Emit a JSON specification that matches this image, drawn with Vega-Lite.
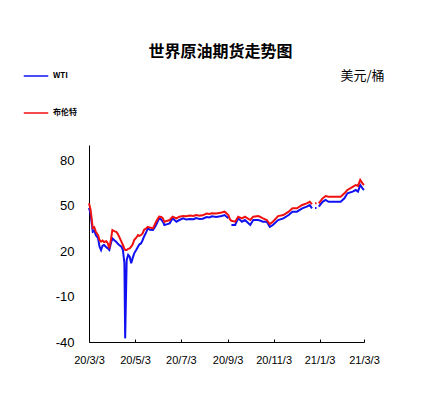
{
  "$schema": "https://vega.github.io/schema/vega-lite/v6.json",
  "width": 275,
  "height": 197,
  "autosize": {"type": "none"},
  "padding": {"left": 89, "top": 145, "right": 78, "bottom": 57},
  "background": "white",
  "title": {
    "text": "世界原油期货走势图",
    "font": "Noto Sans CJK SC",
    "fontSize": 16,
    "fontWeight": "bold",
    "color": "#000000",
    "anchor": "middle",
    "offset": 3,
    "dx": -6
  },
  "config": {
    "view": {"stroke": null},
    "font": "Liberation Sans"
  },
  "data": {
    "values": [
      {"d": "2020-03-03", "s": "WTI", "v": 48.5}, {"d": "2020-03-03", "s": "布伦特", "v": 51.5},
      {"d": "2020-03-05", "s": "WTI", "v": 45.0}, {"d": "2020-03-05", "s": "布伦特", "v": 47.5},
      {"d": "2020-03-08", "s": "WTI", "v": 32.8}, {"d": "2020-03-08", "s": "布伦特", "v": 35.2},
      {"d": "2020-03-10", "s": "WTI", "v": 33.5}, {"d": "2020-03-10", "s": "布伦特", "v": 35.8},
      {"d": "2020-03-12", "s": "WTI", "v": 30.6}, {"d": "2020-03-12", "s": "布伦特", "v": 32.8},
      {"d": "2020-03-15", "s": "WTI", "v": 28.5}, {"d": "2020-03-15", "s": "布伦特", "v": 30.5},
      {"d": "2020-03-17", "s": "WTI", "v": 22.9}, {"d": "2020-03-17", "s": "布伦特", "v": 27.3},
      {"d": "2020-03-19", "s": "WTI", "v": 20.7}, {"d": "2020-03-19", "s": "布伦特", "v": 26.2},
      {"d": "2020-03-21", "s": "WTI", "v": 23.5}, {"d": "2020-03-21", "s": "布伦特", "v": 27.0},
      {"d": "2020-03-23", "s": "WTI", "v": 24.0}, {"d": "2020-03-23", "s": "布伦特", "v": 26.0},
      {"d": "2020-03-26", "s": "WTI", "v": 22.5}, {"d": "2020-03-26", "s": "布伦特", "v": 26.5},
      {"d": "2020-03-28", "s": "WTI", "v": 21.8}, {"d": "2020-03-28", "s": "布伦特", "v": 25.0},
      {"d": "2020-03-30", "s": "WTI", "v": 20.7}, {"d": "2020-03-30", "s": "布伦特", "v": 21.8},
      {"d": "2020-04-01", "s": "WTI", "v": 25.0}, {"d": "2020-04-01", "s": "布伦特", "v": 27.3},
      {"d": "2020-04-03", "s": "WTI", "v": 28.4}, {"d": "2020-04-03", "s": "布伦特", "v": 33.9},
      {"d": "2020-04-06", "s": "WTI", "v": 27.0}, {"d": "2020-04-06", "s": "布伦特", "v": 33.0},
      {"d": "2020-04-08", "s": "WTI", "v": 26.2}, {"d": "2020-04-08", "s": "布伦特", "v": 32.8},
      {"d": "2020-04-10", "s": "WTI", "v": 25.0}, {"d": "2020-04-10", "s": "布伦特", "v": 31.5},
      {"d": "2020-04-12", "s": "WTI", "v": 24.0}, {"d": "2020-04-12", "s": "布伦特", "v": 29.5},
      {"d": "2020-04-15", "s": "WTI", "v": 22.9}, {"d": "2020-04-15", "s": "布伦特", "v": 26.2},
      {"d": "2020-04-17", "s": "WTI", "v": 20.7}, {"d": "2020-04-17", "s": "布伦特", "v": 24.0},
      {"d": "2020-04-19", "s": "WTI", "v": 12.0}, {"d": "2020-04-19", "s": "布伦特", "v": 21.5},
      {"d": "2020-04-20", "s": "WTI", "v": -37.6}, {"d": "2020-04-20", "s": "布伦特", "v": 20.7},
      {"d": "2020-04-22", "s": "WTI", "v": 14.1}, {"d": "2020-04-22", "s": "布伦特", "v": 20.7},
      {"d": "2020-04-24", "s": "WTI", "v": 17.5}, {"d": "2020-04-24", "s": "布伦特", "v": 21.5},
      {"d": "2020-04-26", "s": "WTI", "v": 16.3}, {"d": "2020-04-26", "s": "布伦特", "v": 21.8},
      {"d": "2020-04-28", "s": "WTI", "v": 11.9}, {"d": "2020-04-28", "s": "布伦特", "v": 22.9},
      {"d": "2020-04-30", "s": "WTI", "v": 15.5}, {"d": "2020-04-30", "s": "布伦特", "v": 24.5},
      {"d": "2020-05-02", "s": "WTI", "v": 18.5}, {"d": "2020-05-02", "s": "布伦特", "v": 27.3},
      {"d": "2020-05-05", "s": "WTI", "v": 21.0}, {"d": "2020-05-05", "s": "布伦特", "v": 29.0},
      {"d": "2020-05-07", "s": "WTI", "v": 22.9}, {"d": "2020-05-07", "s": "布伦特", "v": 30.6},
      {"d": "2020-05-09", "s": "WTI", "v": 24.5}, {"d": "2020-05-09", "s": "布伦特", "v": 30.0},
      {"d": "2020-05-11", "s": "WTI", "v": 25.0}, {"d": "2020-05-11", "s": "布伦特", "v": 30.6},
      {"d": "2020-05-13", "s": "WTI", "v": 27.0}, {"d": "2020-05-13", "s": "布伦特", "v": 31.5},
      {"d": "2020-05-15", "s": "WTI", "v": 29.5}, {"d": "2020-05-15", "s": "布伦特", "v": 33.9},
      {"d": "2020-05-18", "s": "WTI", "v": 32.5}, {"d": "2020-05-18", "s": "布伦特", "v": 35.0},
      {"d": "2020-05-20", "s": "WTI", "v": 35.0}, {"d": "2020-05-20", "s": "布伦特", "v": 36.0},
      {"d": "2020-05-23", "s": "WTI", "v": 34.0}, {"d": "2020-05-23", "s": "布伦特", "v": 35.5},
      {"d": "2020-05-27", "s": "WTI", "v": 33.9}, {"d": "2020-05-27", "s": "布伦特", "v": 35.0},
      {"d": "2020-05-31", "s": "WTI", "v": 37.2}, {"d": "2020-05-31", "s": "布伦特", "v": 39.4},
      {"d": "2020-06-04", "s": "WTI", "v": 41.6}, {"d": "2020-06-04", "s": "布伦特", "v": 42.7},
      {"d": "2020-06-07", "s": "WTI", "v": 40.8}, {"d": "2020-06-07", "s": "布伦特", "v": 42.5},
      {"d": "2020-06-09", "s": "WTI", "v": 39.4}, {"d": "2020-06-09", "s": "布伦特", "v": 41.6},
      {"d": "2020-06-11", "s": "WTI", "v": 37.2}, {"d": "2020-06-11", "s": "布伦特", "v": 39.4},
      {"d": "2020-06-15", "s": "WTI", "v": 37.8}, {"d": "2020-06-15", "s": "布伦特", "v": 40.0},
      {"d": "2020-06-18", "s": "WTI", "v": 38.3}, {"d": "2020-06-18", "s": "布伦特", "v": 40.5},
      {"d": "2020-06-22", "s": "WTI", "v": 41.6}, {"d": "2020-06-22", "s": "布伦特", "v": 42.7},
      {"d": "2020-06-27", "s": "WTI", "v": 39.4}, {"d": "2020-06-27", "s": "布伦特", "v": 41.6},
      {"d": "2020-07-01", "s": "WTI", "v": 40.5}, {"d": "2020-07-01", "s": "布伦特", "v": 42.7},
      {"d": "2020-07-06", "s": "WTI", "v": 41.6}, {"d": "2020-07-06", "s": "布伦特", "v": 43.1},
      {"d": "2020-07-10", "s": "WTI", "v": 40.8}, {"d": "2020-07-10", "s": "布伦特", "v": 43.0},
      {"d": "2020-07-15", "s": "WTI", "v": 41.2}, {"d": "2020-07-15", "s": "布伦特", "v": 43.5},
      {"d": "2020-07-20", "s": "WTI", "v": 41.0}, {"d": "2020-07-20", "s": "布伦特", "v": 43.2},
      {"d": "2020-07-23", "s": "WTI", "v": 41.8}, {"d": "2020-07-23", "s": "布伦特", "v": 43.8},
      {"d": "2020-07-28", "s": "WTI", "v": 41.2}, {"d": "2020-07-28", "s": "布伦特", "v": 43.4},
      {"d": "2020-08-01", "s": "WTI", "v": 41.4}, {"d": "2020-08-01", "s": "布伦特", "v": 43.6},
      {"d": "2020-08-06", "s": "WTI", "v": 42.5}, {"d": "2020-08-06", "s": "布伦特", "v": 44.8},
      {"d": "2020-08-10", "s": "WTI", "v": 42.2}, {"d": "2020-08-10", "s": "布伦特", "v": 44.5},
      {"d": "2020-08-13", "s": "WTI", "v": 42.9}, {"d": "2020-08-13", "s": "布伦特", "v": 45.0},
      {"d": "2020-08-19", "s": "WTI", "v": 42.5}, {"d": "2020-08-19", "s": "布伦特", "v": 44.8},
      {"d": "2020-08-26", "s": "WTI", "v": 43.2}, {"d": "2020-08-26", "s": "布伦特", "v": 45.5},
      {"d": "2020-08-30", "s": "WTI", "v": 43.8}, {"d": "2020-08-30", "s": "布伦特", "v": 46.0},
      {"d": "2020-09-04", "s": "WTI", "v": 41.6}, {"d": "2020-09-04", "s": "布伦特", "v": 43.8},
      {"d": "2020-09-06", "s": "WTI", "v": null}, {"d": "2020-09-06", "s": "布伦特", "v": 41.0},
      {"d": "2020-09-08", "s": "WTI", "v": 37.2}, {"d": "2020-09-08", "s": "布伦特", "v": 40.0},
      {"d": "2020-09-13", "s": "WTI", "v": 37.2}, {"d": "2020-09-13", "s": "布伦特", "v": 39.4},
      {"d": "2020-09-17", "s": "WTI", "v": 41.6}, {"d": "2020-09-17", "s": "布伦特", "v": 42.7},
      {"d": "2020-09-22", "s": "WTI", "v": 39.4}, {"d": "2020-09-22", "s": "布伦特", "v": 41.6},
      {"d": "2020-09-26", "s": "WTI", "v": 40.5}, {"d": "2020-09-26", "s": "布伦特", "v": 42.7},
      {"d": "2020-10-03", "s": "WTI", "v": 37.2}, {"d": "2020-10-03", "s": "布伦特", "v": 40.5},
      {"d": "2020-10-07", "s": "WTI", "v": 40.5}, {"d": "2020-10-07", "s": "布伦特", "v": 42.7},
      {"d": "2020-10-14", "s": "WTI", "v": 40.5}, {"d": "2020-10-14", "s": "布伦特", "v": 43.1},
      {"d": "2020-10-20", "s": "WTI", "v": 39.4}, {"d": "2020-10-20", "s": "布伦特", "v": 41.6},
      {"d": "2020-10-25", "s": "WTI", "v": 39.4}, {"d": "2020-10-25", "s": "布伦特", "v": 40.5},
      {"d": "2020-10-29", "s": "WTI", "v": 36.0}, {"d": "2020-10-29", "s": "布伦特", "v": 37.8},
      {"d": "2020-11-02", "s": "WTI", "v": 37.2}, {"d": "2020-11-02", "s": "布伦特", "v": 39.4},
      {"d": "2020-11-09", "s": "WTI", "v": 40.5}, {"d": "2020-11-09", "s": "布伦特", "v": 43.1},
      {"d": "2020-11-16", "s": "WTI", "v": 41.6}, {"d": "2020-11-16", "s": "布伦特", "v": 43.8},
      {"d": "2020-11-23", "s": "WTI", "v": 43.8}, {"d": "2020-11-23", "s": "布伦特", "v": 46.0},
      {"d": "2020-11-28", "s": "WTI", "v": 46.0}, {"d": "2020-11-28", "s": "布伦特", "v": 48.2},
      {"d": "2020-12-04", "s": "WTI", "v": 46.0}, {"d": "2020-12-04", "s": "布伦特", "v": 48.2},
      {"d": "2020-12-11", "s": "WTI", "v": 48.2}, {"d": "2020-12-11", "s": "布伦特", "v": 50.4},
      {"d": "2020-12-17", "s": "WTI", "v": 49.3}, {"d": "2020-12-17", "s": "布伦特", "v": 51.5},
      {"d": "2020-12-21", "s": "WTI", "v": 50.4}, {"d": "2020-12-21", "s": "布伦特", "v": 52.5},
      {"d": "2020-12-24", "s": "WTI", "v": 48.2}, {"d": "2020-12-24", "s": "布伦特", "v": 51.0},
      {"d": "2020-12-26", "s": "WTI", "v": null}, {"d": "2020-12-26", "s": "布伦特", "v": null},
      {"d": "2020-12-28", "s": "WTI", "v": 48.5}, {"d": "2020-12-28", "s": "布伦特", "v": 51.5},
      {"d": "2020-12-30", "s": "WTI", "v": 48.5}, {"d": "2020-12-30", "s": "布伦特", "v": 51.5},
      {"d": "2020-12-31", "s": "WTI", "v": null}, {"d": "2020-12-31", "s": "布伦特", "v": null},
      {"d": "2021-01-02", "s": "WTI", "v": 49.3}, {"d": "2021-01-02", "s": "布伦特", "v": 51.5},
      {"d": "2021-01-07", "s": "WTI", "v": 52.5}, {"d": "2021-01-07", "s": "布伦特", "v": 54.8},
      {"d": "2021-01-11", "s": "WTI", "v": 53.7}, {"d": "2021-01-11", "s": "布伦特", "v": 56.3},
      {"d": "2021-01-15", "s": "WTI", "v": 52.5}, {"d": "2021-01-15", "s": "布伦特", "v": 55.8},
      {"d": "2021-01-22", "s": "WTI", "v": 52.5}, {"d": "2021-01-22", "s": "布伦特", "v": 55.8},
      {"d": "2021-01-31", "s": "WTI", "v": 52.5}, {"d": "2021-01-31", "s": "布伦特", "v": 55.8},
      {"d": "2021-02-05", "s": "WTI", "v": 54.8}, {"d": "2021-02-05", "s": "布伦特", "v": 58.1},
      {"d": "2021-02-09", "s": "WTI", "v": 58.1}, {"d": "2021-02-09", "s": "布伦特", "v": 60.3},
      {"d": "2021-02-16", "s": "WTI", "v": 59.2}, {"d": "2021-02-16", "s": "布伦特", "v": 62.4},
      {"d": "2021-02-20", "s": "WTI", "v": 60.3}, {"d": "2021-02-20", "s": "布伦特", "v": 63.6},
      {"d": "2021-02-23", "s": "WTI", "v": 59.2}, {"d": "2021-02-23", "s": "布伦特", "v": 63.0},
      {"d": "2021-02-26", "s": "WTI", "v": 63.6}, {"d": "2021-02-26", "s": "布伦特", "v": 66.9},
      {"d": "2021-03-01", "s": "WTI", "v": 61.4}, {"d": "2021-03-01", "s": "布伦特", "v": 64.7},
      {"d": "2021-03-03", "s": "WTI", "v": 60.3}, {"d": "2021-03-03", "s": "布伦特", "v": 63.6}
    ]
  },
  "mark": {"type": "line", "strokeWidth": 2, "invalid": "break-paths-show-domains"},
  "encoding": {
    "x": {
      "field": "d",
      "type": "temporal",
      "scale": {"type": "utc", "domain": [{"year": 2020, "month": 3, "date": 3, "utc": true}, {"year": 2021, "month": 3, "date": 3, "utc": true}]},
      "axis": {
        "title": null,
        "grid": false,
        "values": [
          {"year": 2020, "month": 3, "date": 3, "utc": true},
          {"year": 2020, "month": 5, "date": 3, "utc": true},
          {"year": 2020, "month": 7, "date": 3, "utc": true},
          {"year": 2020, "month": 9, "date": 3, "utc": true},
          {"year": 2020, "month": 11, "date": 3, "utc": true},
          {"year": 2021, "month": 1, "date": 3, "utc": true},
          {"year": 2021, "month": 3, "date": 3, "utc": true}
        ],
        "labelExpr": "utcFormat(datum.value, '%y/%-m/%-d')",
        "labelFont": "Liberation Sans",
        "labelFontSize": 11,
        "labelColor": "#000000",
        "labelPadding": 15,
        "labelOverlap": false,
        "labelFlush": false,
        "domainColor": "#000000",
        "domainWidth": 1,
        "tickColor": "#000000",
        "tickSize": -3,
        "ticks": true
      }
    },
    "y": {
      "field": "v",
      "type": "quantitative",
      "scale": {"domain": [-40, 90], "nice": false, "zero": false},
      "axis": {
        "title": "美元/桶",
        "titleFont": "Noto Sans CJK SC",
        "titleFontSize": 13,
        "titleFontWeight": "normal",
        "titleColor": "#000000",
        "titleAngle": 0,
        "titleX": 273,
        "titleY": -70,
        "titleAlign": "center",
        "titleBaseline": "middle",
        "values": [-40, -10, 20, 50, 80],
        "labelExpr": "'' + datum.value",
        "grid": false,
        "ticks": false,
        "labelFont": "Liberation Sans",
        "labelFontSize": 13,
        "labelColor": "#000000",
        "labelPadding": 15,
        "domainColor": "#000000",
        "domainWidth": 1
      }
    },
    "color": {
      "field": "s",
      "type": "nominal",
      "scale": {"domain": ["WTI", "布伦特"], "range": ["#1010F0", "#F01010"]},
      "legend": {
        "title": null,
        "orient": "none",
        "legendX": -66,
        "legendY": -82,
        "direction": "vertical",
        "symbolType": "stroke",
        "symbolSize": 600,
        "symbolStrokeWidth": 1.5,
        "labelFont": "Noto Sans CJK SC",
        "labelFontSize": 8,
        "labelFontWeight": "bold",
        "labelColor": "#000000",
        "labelOffset": 4,
        "rowPadding": 20
      }
    }
  }
}
